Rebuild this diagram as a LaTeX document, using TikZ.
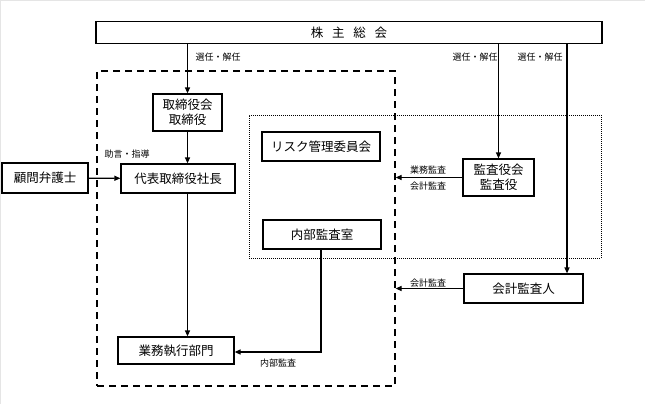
\documentclass[tikz,border=0pt]{standalone}
\usepackage{fontspec}
\setmainfont{Noto Sans CJK JP}
\usetikzlibrary{arrows.meta,positioning}

\begin{document}
\begin{tikzpicture}[
    x=1pt, y=-1pt,
    box/.style={draw=black, line width=1.2pt, align=center, inner sep=0pt,
                font=\fontsize{12.5}{14.5}\selectfont},
    lbl/.style={inner sep=0pt, font=\fontsize{9}{10}\selectfont},
    arrow/.style={-{Triangle[length=6pt,width=5pt]}, line width=1.2pt},
    dashbox/.style={draw=black, line width=1.2pt, dash pattern=on 7pt off 5pt,
                    inner sep=0pt},
    dotbox/.style={draw=black, line width=0.8pt, dash pattern=on 1pt off 1pt,
                   inner sep=0pt},
]
    % Frame
    \useasboundingbox (0,0) rectangle (645,404);
    \draw[gray!20, line width=1pt] (0.5,404) -- (0.5,0.5) -- (645,0.5);

    % Areas
    \node[dashbox, minimum width=298pt, minimum height=315pt] (board) at (246,228.5) {};
    \node[dotbox, minimum width=352pt, minimum height=143pt] (audit) at (425,186.5) {};

    % Top
    \node[box, minimum width=506pt, minimum height=22pt] (meeting) at (349,32.5)
        {株\hspace{0.7em}主\hspace{0.7em}総\hspace{0.7em}会};

    % Board side
    \node[box, minimum width=69pt, minimum height=37pt] (directors) at (187.5,112.5) {取締役会\\取締役};
    \node[box, minimum width=114pt, minimum height=29pt] (president) at (178,178.5) {代表取締役社長};
    \node[box, minimum width=116pt, minimum height=27pt] (division) at (176,350.5) {業務執行部門};
    \node[box, minimum width=86pt, minimum height=30pt] (lawyer) at (45,178) {顧問弁護士};

    % Audit side
    \node[box, minimum width=118pt, minimum height=29pt] (risk) at (321,146.5) {リスク管理委員会};
    \node[box, minimum width=118pt, minimum height=29pt] (internal) at (322,234.5) {内部監査室};
    \node[box, minimum width=71pt, minimum height=37pt] (auditors) at (498.5,177.5) {監査役会\\監査役};
    \node[box, minimum width=119pt, minimum height=29pt] (accountant) at (523.5,288.5) {会計監査人};

    % Helper points
    \coordinate (selx) at (567,274);
    \coordinate (intx) at (321,352);

    % Arrows
    \draw[arrow] (meeting.south -| directors) -- (directors.north);
    \draw[arrow] (meeting.south -| auditors) -- (auditors.north);
    \draw[arrow] (meeting.south -| selx) -- (accountant.north -| selx);
    \draw[arrow] (directors.south) -- (directors.south |- president.north);
    \draw[arrow] (president.south -| directors) -- (division.north -| directors);
    \draw[arrow] (lawyer) -- (president);
    \draw[arrow] (auditors.west) -- (auditors.west -| board.east);
    \draw[arrow] (accountant.west) -- (accountant.west -| board.east);
    \draw[arrow] (internal.south -| intx) -- (intx) -- (intx -| division.east);

    % Labels
    \node[lbl] (sel1) at (218,57) {選任・解任};
    \node[lbl] (sel2) at (475,57) {選任・解任};
    \node[lbl] (sel3) at (540,57) {選任・解任};
    \node[lbl] (advice) at (127,154) {助言・指導};
    \node[lbl] (bizaudit) at (428,170) {業務監査};
    \node[lbl] (accaudit) at (428,186) {会計監査};
    \node[lbl] (accaudit2) at (428,283) {会計監査};
    \node[lbl] (intaudit) at (278,363) {内部監査};
\end{tikzpicture}
\end{document}
